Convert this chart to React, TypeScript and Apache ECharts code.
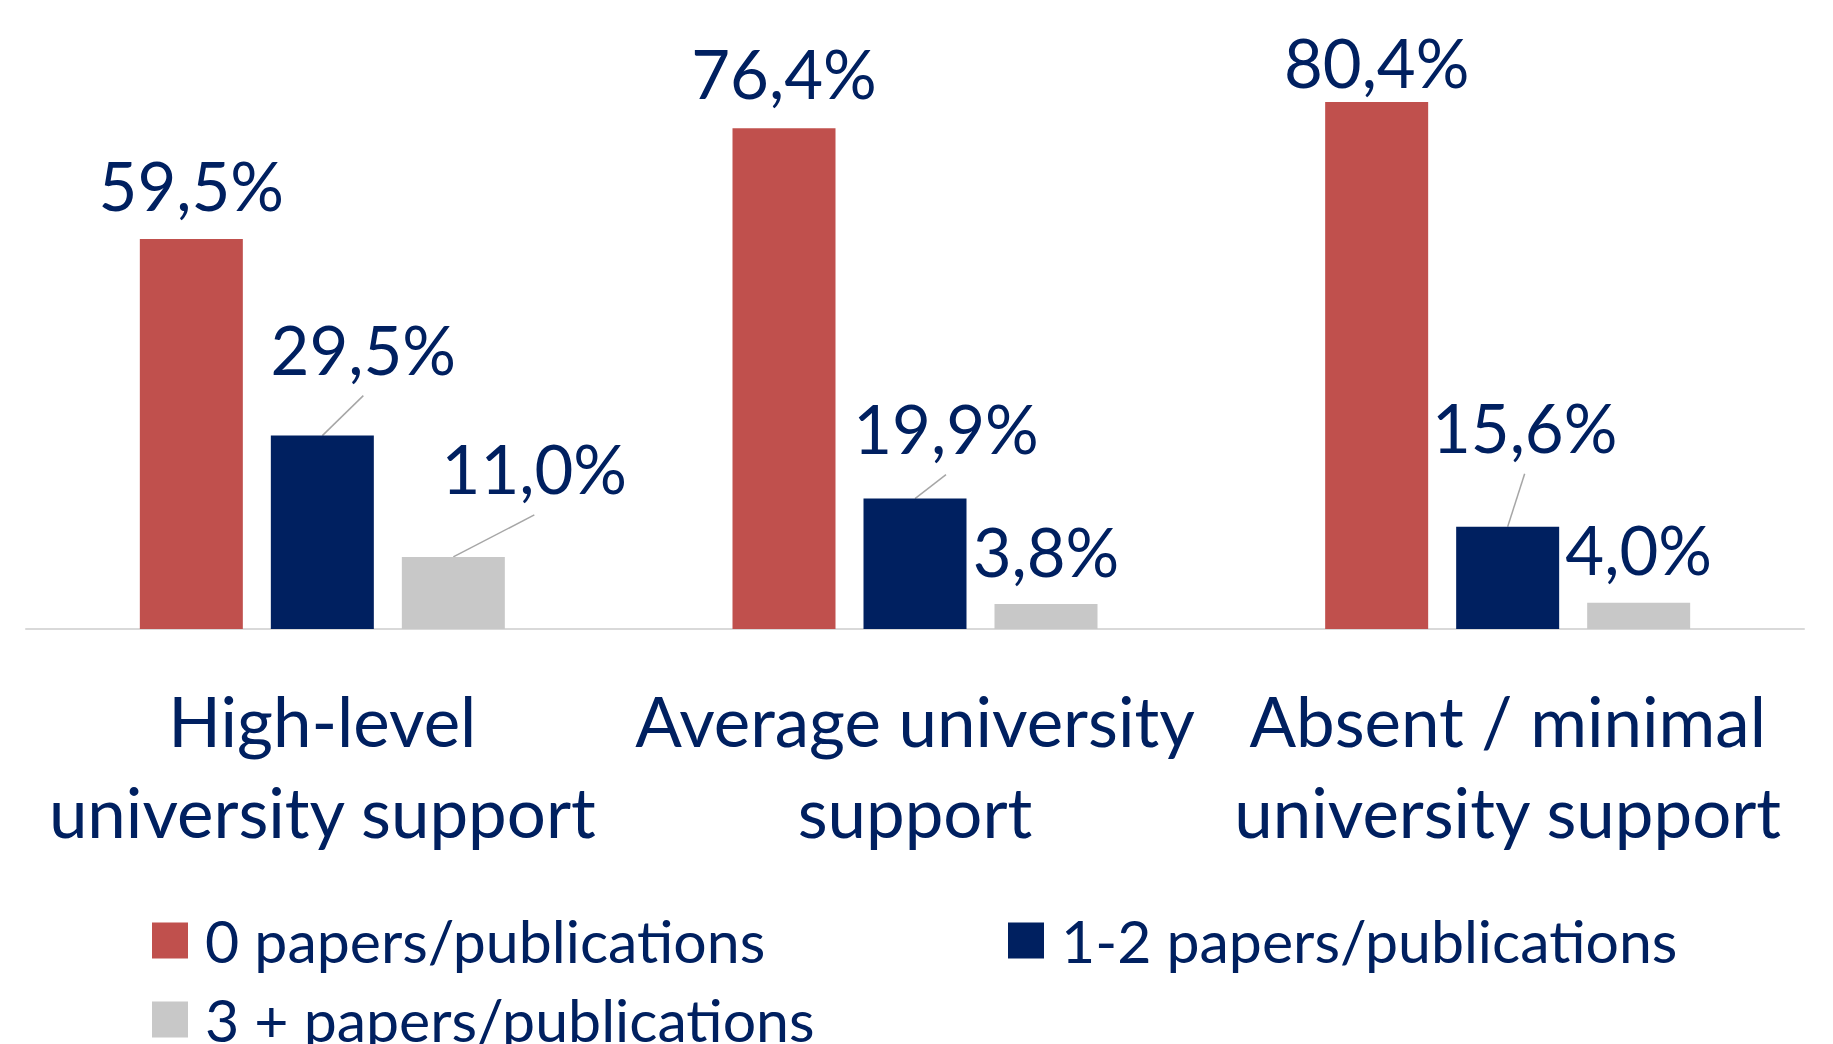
import React, { useEffect, useRef } from "react";
import * as echarts from "echarts";

const categories = [
  "High-level\nuniversity support",
  "Average university\nsupport",
  "Absent / minimal\nuniversity support",
];
const seriesNames = [
  "0 papers/publications",
  "1-2 papers/publications",
  "3 + papers/publications",
];
const zeroPapers = [59.5, 76.4, 80.4];
const oneTwoPapers = [29.5, 19.9, 15.6];
const threePlusPapers = [11.0, 3.8, 4.0];
const seriesValues = [zeroPapers, oneTwoPapers, threePlusPapers];

const colors = ["#C0504D", "#002060", "#C8C8C8"];
const textColor = "#002060";
const FONT = "Lato";

// label offsets [dx, dy] relative to default top position (pixels)
const labelOffsets = [
  [[0, 0], [0, -2], [0, 14]],
  [[41, -33], [31, -17], [17, -46]],
  [[81, -35], [0, 0], [0, 0]],
];
// which labels have leader lines: [seriesIndex, categoryIndex]
const leaders = [
  [1, 0],
  [2, 0],
  [1, 1],
  [1, 2],
];

const BAR_W = 103;
const BAR_GAP = 28;

const fmt = (v: number) => v.toFixed(1).replace(".", ",") + "%";

export default function App() {
  const ref = useRef<HTMLDivElement>(null);
  useEffect(() => {
    if (!ref.current) return;
    const chart = echarts.init(ref.current, null, { renderer: "svg" });

    const barSeries = seriesValues.map((vals, si) => ({
      type: "bar",
      name: seriesNames[si],
      barWidth: BAR_W,
      barGap: (BAR_GAP / BAR_W) * 100 + "%",
      itemStyle: { color: colors[si] },
      label: {
        show: true,
        position: "top",
        distance: 20,
        color: textColor,
        fontFamily: FONT,
        fontSize: 67,
        lineHeight: 67,
        formatter: (p: any) => fmt(p.value),
      },
      data: vals.map((v, ci) => ({
        value: v,
        label: { offset: labelOffsets[si][ci] },
      })),
    }));

    const leaderData = leaders.map(([si, ci]) => [
      ci,
      seriesValues[si][ci],
      si,
      labelOffsets[si][ci][0],
      labelOffsets[si][ci][1],
    ]);

    const legendBase = {
      icon: "rect",
      itemWidth: 36,
      itemHeight: 36,
      padding: 0,
      textStyle: {
        color: textColor,
        fontFamily: FONT,
        fontSize: 59,
        lineHeight: 40,
        padding: [0, 0, 0, 12],
      },
    };

    chart.setOption({
      animation: false,
      grid: {
        left: 26,
        right: 29,
        top: 39,
        bottom: 415,
        outerBoundsMode: "none",
        containLabel: false,
      },
      legend: [
        { ...legendBase, data: [seriesNames[0]], left: 152, top: 911 },
        { ...legendBase, data: [seriesNames[1]], left: 1008, top: 911 },
        { ...legendBase, data: [seriesNames[2]], left: 152, top: 990 },
      ],
      xAxis: {
        type: "category",
        data: categories,
        axisLine: { show: true, lineStyle: { color: "#D9D9D9", width: 2 } },
        axisTick: { show: false },
        axisLabel: {
          interval: 0,
          color: textColor,
          fontFamily: FONT,
          fontSize: 69,
          lineHeight: 91,
          margin: 46,
        },
      },
      yAxis: {
        type: "value",
        min: 0,
        max: 90,
        show: false,
        splitLine: { show: false },
      },
      series: [
        ...barSeries,
        {
          type: "custom",
          name: "leaders",
          silent: true,
          z: 1,
          encode: { x: 0, y: 1 },
          renderItem: (params: any, api: any) => {
            const ci = api.value(0);
            const v = api.value(1);
            const si = api.value(2);
            const dx = api.value(3);
            const dy = api.value(4);
            const p = api.coord([ci, v]);
            const x0 = p[0] + (si - 1) * (BAR_W + BAR_GAP);
            const y0 = p[1];
            return {
              type: "line",
              shape: { x1: x0, y1: y0, x2: x0 + dx, y2: y0 + dy - 7 },
              style: { stroke: "#A6A6A6", lineWidth: 1.5 },
            };
          },
          data: leaderData,
        },
      ],
    });
    return () => chart.dispose();
  }, []);
  return (
    <div
      ref={ref}
      style={{ position: "fixed", left: 0, top: 0, width: 1833, height: 1044, background: "#fff" }}
    />
  );
}
